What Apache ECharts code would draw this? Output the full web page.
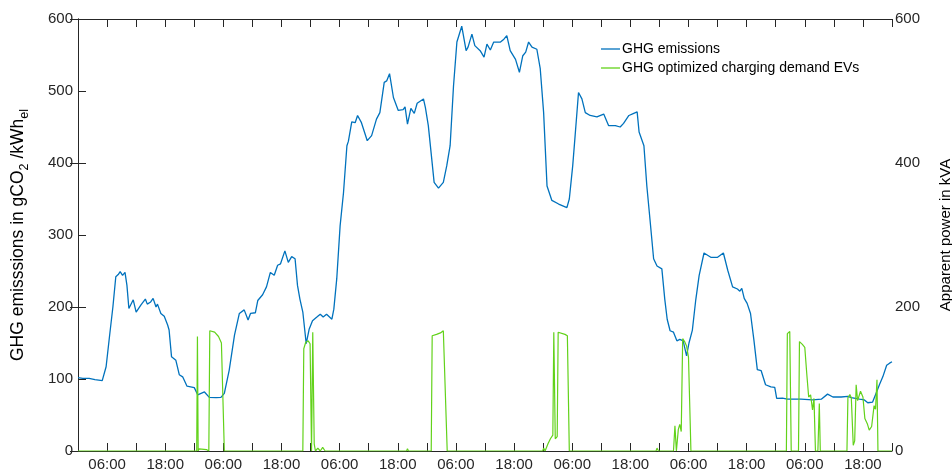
<!DOCTYPE html>
<html>
<head>
<meta charset="utf-8">
<script src="https://cdn.jsdelivr.net/npm/echarts@6/dist/echarts.min.js"></script>
<style>
  html, body { margin: 0; padding: 0; background: #fff; }
  #chart { width: 952px; height: 474px; }
</style>
</head>
<body>
<div id="chart"></div>
<script>
// Hour of the week (0..168) and GHG emission factor of the grid, gCO2/kWh_el
const ghgEmissions = [
  [0,102],[1,101],[2.3,101],[3.5,99],[5,97.7],[5.8,117],[6.5,159],[7.2,200],[7.8,242],[8.3,245],
  [8.7,249],[9.2,244],[9.7,248],[10.1,230],[10.5,198],[10.9,200],[11.4,210],[12,193],[13,203],[13.9,211],
  [14.3,204],[15,207],[15.5,212],[16.1,200],[16.4,204],[17.1,191],[17.8,187],[18.5,175],[18.8,168],[19.3,131],
  [20.2,126],[20.9,106],[21.6,103],[22.5,90],[24,88],[24.7,78],[25.4,80],[26.1,82],[27.1,74.5],[28.5,74],
  [29.5,74.5],[30.2,80],[31.2,112],[32.3,161],[33.3,191],[34.3,196],[35.1,182],[35.6,191],[36.6,192],[37.1,209],
  [38.1,217],[38.9,228],[39.7,248],[40.5,244],[41.2,258],[41.8,260],[42.7,278],[43.4,262],[44.1,270],[44.8,267],
  [45.3,230],[45.8,211],[46.4,193],[47.1,149],[47.7,169],[48.4,181],[49.3,186],[50,190],[50.6,186],[51.3,190],
  [52.4,183],[52.8,197],[53.4,239],[54.1,313],[54.8,359],[55.5,424],[55.8,430],[56.5,457],[57.2,456],[57.7,466],
  [58.5,456],[59.7,431],[60.6,438],[61.6,461],[62.3,470],[63.2,512],[63.7,514],[64.3,524],[65.1,491],[66.1,473],
  [67.1,474],[67.5,478],[68,454],[68.7,476],[69.4,469],[70,483],[71.3,489],[71.7,477],[72.3,452],[73,406],
  [73.5,373],[74.4,365],[75.4,373],[76.1,396],[76.8,424],[77.5,507],[78.2,568],[79.2,590],[80.1,556],[80.5,561],
  [81.3,579],[81.9,563],[83,556],[83.8,547],[84.4,565],[85.1,557],[85.8,568],[87.2,568],[87.9,572],[88.5,577],
  [89.2,556],[90.3,544],[91.1,526],[91.8,549],[92.4,554],[93,568],[93.7,561],[94.7,558],[95.4,531],[96.1,470],
  [96.8,368],[97.8,348],[99.2,343],[100.9,338],[101.4,350],[102.1,396],[102.6,438],[103.3,498],[104,489],[104.7,470],
  [105.7,466],[107.1,464],[108.5,468],[109.5,452],[110.9,452],[111.9,450],[112.6,455],[113.7,466],[114.7,469],[115.4,471],
  [115.8,443],[116.8,424],[117.4,368],[118.1,318],[118.8,267],[119.5,257],[120.5,253],[121.1,211],[121.6,183],[122.2,167],
  [122.9,165],[123.6,153],[124.2,155],[124.9,153],[125.6,132],[126.1,150],[126.8,168],[127.5,210],[128.2,244],[129.2,275],
  [130.6,269],[132,269],[133.2,275],[134.1,251],[135.1,228],[136.1,225],[136.6,222],[137,226],[137.5,212],[138.1,205],
  [138.8,191],[139.5,154],[140.2,113],[141,111.5],[141.9,92],[143,89],[143.8,88.5],[144.2,73],[145.4,73.5],[146.4,72],
  [149.2,72],[151.6,71],[153.4,72],[154.7,79],[155.8,75],[157.5,75],[158.9,76],[159.6,74],[161.3,72],[162.3,71],
  [163,67],[164,68],[164.7,80],[165.4,92],[166.1,103],[166.9,119],[167.5,122],[168,124]
];

// Hour of the week and GHG-optimised EV charging demand, kVA
const evChargingDemand = [
  [0,0],
  [24.5,0],[24.65,159],[24.8,0],[25,3],[26.5,2],[27.0,0],[27.2,167],[28.2,165],[29.0,159],[29.6,150],[30.0,148],[30.2,0],
  [46.4,0],[46.6,142],[47.0,151],[47.5,153],[47.9,149],[48.2,0],[48.35,0],[48.45,165],[48.6,165],[48.75,10],[49,0],[49.5,4],[50,0],[50.5,5],[51,0],
  [67.8,0],[68,3],[68.2,0],
  [72.9,0],[73.1,160],[74.0,162],[74.8,164],[75.4,167],[75.8,165],[76.2,0],
  [95.9,0],[96.1,4],[96.4,0],[97.0,10],[97.5,17],[98.0,22],[98.2,165],[98.5,17],[98.9,20],[99.1,165],[100.5,162],[101.0,160],[101.4,0],
  [119.3,0],[119.5,4],[119.8,0],
  [122.9,0],[123.2,35],[123.5,0],[123.9,30],[124.2,37],[124.5,27],[124.8,156],[125.2,152],[125.6,146],[126.0,130],[126.5,0],
  [146.2,0],[146.4,163],[146.9,166],[147.2,0],
  [148.7,0],[148.9,152],[149.5,148],[150.0,144],[150.4,108],[150.8,75],[151.2,78],[151.6,57],[151.9,73],[152.2,0],[152.7,0],[153.0,66],[153.2,0],
  [158.7,0],[158.9,74],[159.3,78.5],[159.6,74],[160.0,8],[160.3,14],[160.6,92],[160.9,70],[161.5,83],[162.0,75],[162.4,45],[162.9,38],[163.3,29],[163.8,34],[164.3,63],[164.6,58],[164.9,99],[165.1,0],
  [168,0]
];

// Clock labels shown on the time axis (hour of day -> text)
const clockLabels = { 6: '06:00', 18: '18:00' };

const seriesNames = ['GHG emissions', 'GHG optimized charging demand EVs'];
const seriesColors = ['#0072BD', '#62D21A'];

const AXIS = '#262626';
const FONT = 'Liberation Sans, Arial, Helvetica, sans-serif';

const chart = echarts.init(document.getElementById('chart'), null, { renderer: 'canvas' });

const baseX = {
  type: 'value', min: 0, max: 168, interval: 6,
  splitLine: { show: false },
  axisLine: { show: true, onZero: false, lineStyle: { color: AXIS, width: 1 } },
  axisTick: { show: true, inside: true, length: 8, lineStyle: { color: AXIS } }
};

chart.setOption({
  animation: false,
  textStyle: { fontFamily: FONT },
  grid: { left: 78, right: 60, top: 19, bottom: 23, outerBoundsMode: 'none', containLabel: false },
  legend: {
    left: 596, top: 36, orient: 'vertical',
    icon: 'rect', itemWidth: 19, itemHeight: 1.3, itemGap: 3,
    textStyle: { fontSize: 14, lineHeight: 16, color: '#000', fontFamily: FONT, padding: [0, 0, 0, -3] },
    data: seriesNames
  },
  xAxis: [
    Object.assign({}, baseX, {
      position: 'bottom',
      axisLabel: {
        color: AXIS, fontSize: 15, fontFamily: FONT, margin: 6,
        showMinLabel: true, showMaxLabel: true,
        formatter: v => clockLabels[v % 24] || ''
      }
    }),
    Object.assign({}, baseX, { position: 'top', axisLabel: { show: false } })
  ],
  yAxis: [
    {
      type: 'value', min: 0, max: 600, interval: 100, position: 'left',
      splitLine: { show: false },
      axisLine: { show: true, lineStyle: { color: AXIS } },
      axisTick: { show: true, inside: true, length: 8, lineStyle: { color: AXIS } },
      axisLabel: { color: AXIS, fontSize: 15, fontFamily: FONT, margin: 5 },
      name: '{n|GHG emisssions in gCO}{s|2}{n| /kWh}{s|el}',
      nameLocation: 'middle', nameGap: 47,
      nameTextStyle: {
        fontFamily: FONT,
        rich: {
          n: { fontSize: 17.5, color: '#000', fontFamily: FONT, lineHeight: 22, verticalAlign: 'top' },
          s: { fontSize: 12.5, color: '#000', fontFamily: FONT, lineHeight: 11, verticalAlign: 'bottom' }
        }
      }
    },
    {
      type: 'value', min: 0, max: 600, interval: 200, position: 'right',
      splitLine: { show: false },
      axisLine: { show: true, lineStyle: { color: AXIS } },
      axisTick: { show: true, inside: true, length: 8, lineStyle: { color: AXIS } },
      axisLabel: { color: AXIS, fontSize: 15, fontFamily: FONT, margin: 3 },
      name: 'Apparent power in kVA',
      nameLocation: 'middle', nameGap: 46,
      nameTextStyle: { fontSize: 15, color: '#000', fontFamily: FONT }
    }
  ],
  series: [
    {
      name: seriesNames[0], type: 'line', xAxisIndex: 0, yAxisIndex: 0,
      data: ghgEmissions, symbol: 'none', z: 3,
      lineStyle: { color: seriesColors[0], width: 1.3 },
      itemStyle: { color: seriesColors[0] }
    },
    {
      name: seriesNames[1], type: 'line', xAxisIndex: 0, yAxisIndex: 1,
      data: evChargingDemand, symbol: 'none', z: 4,
      lineStyle: { color: seriesColors[1], width: 1.2 },
      itemStyle: { color: seriesColors[1] }
    }
  ]
});
</script>
</body>
</html>
